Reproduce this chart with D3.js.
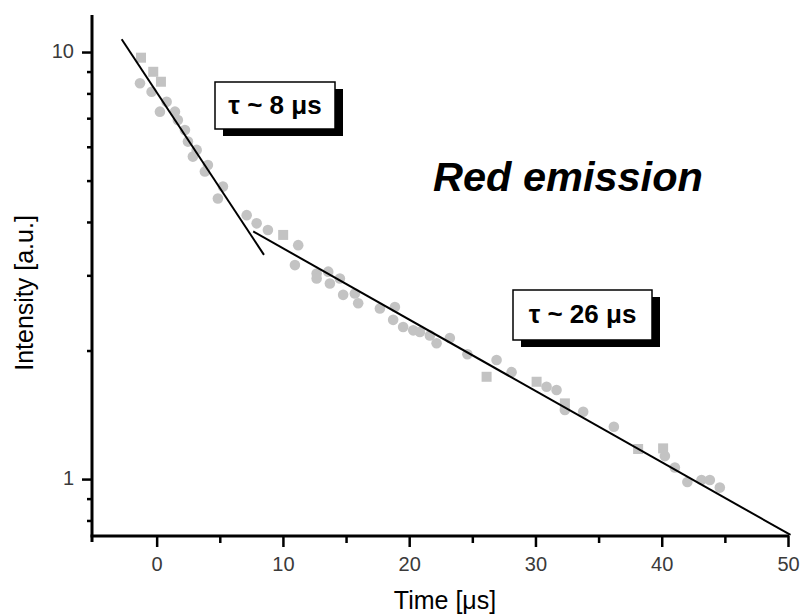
<!DOCTYPE html>
<html lang="en">
<head>
<meta charset="UTF-8">
<title>Red emission decay</title>
<style>
  body { margin: 0; background: #fff; }
  svg { display: block; font-family: Arial, "Liberation Sans", sans-serif; }
</style>
</head>
<body>
<svg id="chart" width="809" height="615"></svg>
<script src="https://d3js.org/d3.v7.min.js"></script>
<script>
// measured decay, square markers
const squareTime = [-1.24, -0.27, 0.34, 10.02, 26.13, 30.09, 32.33, 38.13, 40.11];
const squareInt  = [9.70, 8.99, 8.52, 3.73, 1.736, 1.690, 1.504, 1.176, 1.180];

// measured decay, round markers
const circleTime = [-1.32, -0.40, 0.79, 0.26, 1.45, 1.68, 2.24, 2.48, 3.17, 2.87,
                    4.06, 3.82, 5.25, 4.85, 7.13, 7.92, 8.81, 11.21, 10.95, 12.67,
                    13.59, 12.67, 13.72, 14.51, 14.77, 15.70, 15.96, 17.68, 18.87, 18.73,
                    19.52, 20.32, 20.85, 21.64, 22.17, 23.22, 24.61, 26.92, 28.11, 30.88,
                    31.67, 32.33, 33.78, 36.21, 40.25, 41.04, 42.03, 43.15, 43.81, 44.60];
const circleInt  = [8.45, 8.07, 7.65, 7.25, 7.25, 6.93, 6.57, 6.17, 5.90, 5.69,
                    5.44, 5.25, 4.84, 4.54, 4.15, 3.97, 3.83, 3.53, 3.17, 3.03,
                    3.06, 2.95, 2.87, 2.95, 2.70, 2.72, 2.58, 2.51, 2.53, 2.36,
                    2.27, 2.23, 2.21, 2.17, 2.08, 2.14, 1.96, 1.90, 1.78, 1.645,
                    1.616, 1.451, 1.438, 1.326, 1.132, 1.064, 0.984, 0.995, 0.995, 0.955];

// exponential fits (straight on log axis)
const fastFitTime = [-2.77, 8.5];
const fastFitInt  = [10.71, 3.35];
const slowFitTime = [7.65, 50.2];
const slowFitInt  = [3.80, 0.74];

const xMajor = [0, 10, 20, 30, 40, 50];
const xMinor = [5, 15, 25, 35, 45];
const yMajor = [1, 10];
const yMinor = [0.8, 0.9, 2, 3, 4, 5, 6, 7, 8, 9];

const svg = d3.select('#chart');
const plotLeft = 92, plotRight = 788, plotTop = 15, plotBottom = 536;

const x = d3.scaleLinear().domain([-5.12, 50]).range([plotLeft, plotRight]);
const y = d3.scaleLog().domain([0.7357, 12.21]).range([plotBottom, plotTop]);

// points
const squares = squareTime.map((t, i) => ({ t, v: squareInt[i] }));
const circles = circleTime.map((t, i) => ({ t, v: circleInt[i] }));

svg.append('g').selectAll('rect')
    .data(squares)
    .enter().append('rect')
    .attr('x', d => x(d.t) - 5)
    .attr('y', d => y(d.v) - 5)
    .attr('width', 10)
    .attr('height', 10)
    .attr('fill', '#c3c3c3');

svg.append('g').selectAll('circle')
    .data(circles)
    .enter().append('circle')
    .attr('cx', d => x(d.t))
    .attr('cy', d => y(d.v))
    .attr('r', 5.3)
    .attr('fill', '#c3c3c3');

// fit lines
const line = d3.line().x(d => x(d.t)).y(d => y(d.v));
[[fastFitTime, fastFitInt], [slowFitTime, slowFitInt]].forEach(([ts, vs]) => {
    svg.append('path')
        .datum(ts.map((t, i) => ({ t, v: vs[i] })))
        .attr('d', line)
        .attr('fill', 'none')
        .attr('stroke', '#000')
        .attr('stroke-width', 2);
});

// axes
const xAxis = svg.append('g').attr('transform', `translate(0,${plotBottom})`)
    .call(d3.axisBottom(x).tickValues(xMajor).tickSize(11).tickPadding(10));
svg.append('g').attr('transform', `translate(0,${plotBottom})`)
    .call(d3.axisBottom(x).tickValues(xMinor).tickSize(7).tickFormat(''));
const yAxis = svg.append('g').attr('transform', `translate(${plotLeft},0)`)
    .call(d3.axisLeft(y).tickValues(yMajor).tickSize(10).tickPadding(8).tickFormat(d3.format('d')));
svg.append('g').attr('transform', `translate(${plotLeft},0)`)
    .call(d3.axisLeft(y).tickValues(yMinor).tickSize(5).tickFormat(''));

svg.selectAll('.domain').remove();
svg.selectAll('.tick line').attr('stroke', '#000').attr('stroke-width', 2.5);
svg.selectAll('.tick text')
    .attr('fill', '#3a3a3a')
    .style('font-family', 'Arial, "Liberation Sans", sans-serif')
    .style('font-size', '20px');
yAxis.selectAll('.tick text').attr('dy', '0.25em');

svg.append('line').attr('x1', plotLeft).attr('x2', plotLeft).attr('y1', plotTop).attr('y2', plotBottom + 6)
    .attr('stroke', '#000').attr('stroke-width', 3);
svg.append('line').attr('x1', plotLeft - 1.5).attr('x2', plotRight + 1).attr('y1', plotBottom).attr('y2', plotBottom)
    .attr('stroke', '#000').attr('stroke-width', 3);

// axis titles
svg.append('text')
    .attr('x', 445).attr('y', 609)
    .attr('text-anchor', 'middle')
    .attr('font-size', 25)
    .text('Time [\u03bcs]');

svg.append('text')
    .attr('transform', 'translate(33,293) rotate(-90)')
    .attr('text-anchor', 'middle')
    .attr('font-size', 25)
    .text('Intensity [a.u.]');

// title
svg.append('text')
    .attr('x', 433).attr('y', 191)
    .attr('font-size', 41.5)
    .attr('font-weight', 'bold')
    .attr('font-style', 'italic')
    .text('Red emission');

// lifetime labels with drop shadow
function label(bx, by, w, h, txt) {
    const g = svg.append('g');
    g.append('rect').attr('x', bx + 8).attr('y', by + 7).attr('width', w).attr('height', h).attr('fill', '#000');
    g.append('rect').attr('x', bx).attr('y', by).attr('width', w).attr('height', h)
        .attr('fill', '#fff').attr('stroke', '#000').attr('stroke-width', 1.5);
    g.append('text').attr('x', bx + w / 2).attr('y', by + h / 2 + 8)
        .attr('text-anchor', 'middle')
        .attr('font-size', 26).attr('font-weight', 'bold')
        .text(txt);
}
label(215, 82, 120, 47, '\u03c4 ~ 8 \u03bcs');
label(513, 290, 139, 50, '\u03c4 ~ 26 \u03bcs');
</script>
</body>
</html>
